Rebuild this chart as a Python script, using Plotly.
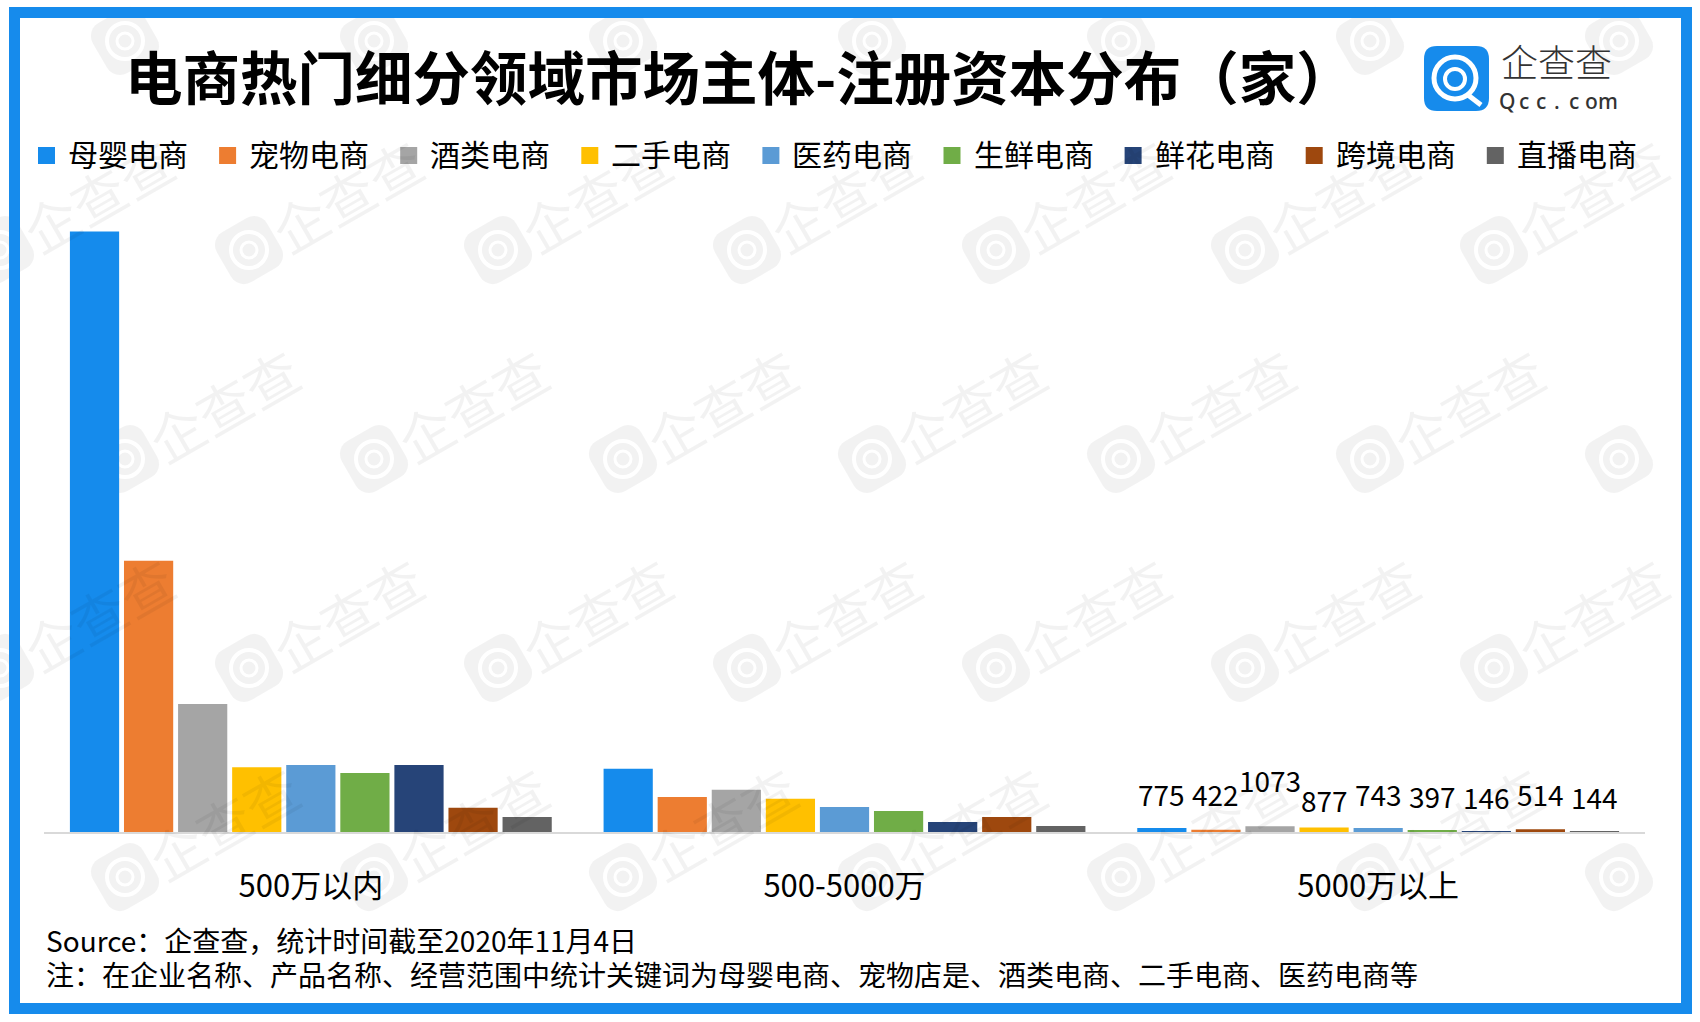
import math
import plotly.graph_objects as go

# ---------------- data ----------------
categories = ["500万以内", "500-5000万", "5000万以上"]
series_names = ["母婴电商", "宠物电商", "酒类电商", "二手电商", "医药电商",
                "生鲜电商", "鲜花电商", "跨境电商", "直播电商"]
muying = [114000, 12000, 775]
chongwu = [51500, 6650, 422]
jiulei = [24300, 8000, 1073]
ershou = [12300, 6300, 877]
yiyao = [12700, 4750, 743]
shengxian = [11200, 4000, 397]
xianhua = [12700, 1900, 146]
kuajing = [4600, 2850, 514]
zhibo = [2850, 1150, 144]
series_values = [muying, chongwu, jiulei, ershou, yiyao, shengxian, xianhua, kuajing, zhibo]
labelled_category = 2  # only the last group carries value labels

title_text = "电商热门细分领域市场主体-注册资本分布（家）"
source_text = "Source：企查查，统计时间截至2020年11月4日"
note_text = "注：在企业名称、产品名称、经营范围中统计关键词为母婴电商、宠物店是、酒类电商、二手电商、医药电商等"

# ---------------- style ----------------
colors = ["#158BEC", "#ED7D31", "#A5A5A5", "#FFC000", "#5B9BD5",
          "#70AD47", "#264478", "#9E480E", "#636363"]
label_lift = [34, 36, 46, 27, 34, 34, 34, 35, 34]  # px above bar top (label collision offsets)
FONT = "Noto Sans CJK SC, Noto Sans, sans-serif"
FRAME_BLUE = "#168BEC"

W, H = 1700, 1022
ML, MR, MT, MB = 44, 55, 200, 190
PW = W - ML - MR
PH = H - MT - MB
BARGAP = 0.088
GROUPGAP = 0.09
YMAX = 120000


def fx(x):
    return (x - ML) / PW


def fy(y):
    return (H - MB - y) / PH


fig = go.Figure()
for name, vals, col in zip(series_names, series_values, colors):
    fig.add_trace(go.Bar(name=name, x=categories, y=vals,
                         marker=dict(color=col, line=dict(width=0)),
                         showlegend=False,
                         hovertemplate="%{x}<br>" + name + ": %{y}<extra></extra>"))

shapes = []
annotations = []

# ---------------- watermarks ----------------
WM_ANGLE = 30


def rot_rounded_square(cx, cy, s, r, ang_deg, n=6):
    a = math.radians(ang_deg)
    h = s / 2 - r
    pts = []
    for ccx, ccy, start in [(h, h, 0), (-h, h, 90), (-h, -h, 180), (h, -h, 270)]:
        for j in range(n + 1):
            t = math.radians(start + 90 * j / n)
            x = ccx + r * math.cos(t)
            y = ccy + r * math.sin(t)
            xr = x * math.cos(a) + y * math.sin(a)
            yr = -x * math.sin(a) + y * math.cos(a)
            pts.append((cx + xr, cy + yr))
    return "M " + " L ".join(f"{fx(x):.5f},{fy(y):.5f}" for x, y in pts) + " Z"


def circle(cx, cy, r, color, width, layer="below"):
    return dict(type="circle", xref="paper", yref="paper",
                x0=fx(cx - r), x1=fx(cx + r), y0=fy(cy + r), y1=fy(cy - r),
                line=dict(color=color, width=width), fillcolor="rgba(0,0,0,0)",
                layer=layer)


for r_i in range(5):
    cy = 41 + 209 * r_i
    x0 = 125 if r_i % 2 == 0 else 0
    for k in range(-1, 8):
        cx = x0 + 249 * k
        if cx < -120 or cx > 1800:
            continue
        shapes.append(dict(type="path", xref="paper", yref="paper",
                           path=rot_rounded_square(cx, cy, 58, 15, WM_ANGLE),
                           fillcolor="rgba(0,0,0,0.05)", line=dict(width=0),
                           layer="below"))
        shapes.append(circle(cx, cy, 18, "white", 4))
        shapes.append(circle(cx, cy, 8, "white", 3))
        tx, ty = cx + 98, cy - 55
        if tx - 90 < 0 or tx + 90 > W or ty - 70 < 0 or ty + 70 > H:
            continue
        if 1380 < tx + 90 and tx - 90 < 1630 and ty - 70 < 125:
            continue  # logo sits on a clear patch
        annotations.append(dict(text="企查查", xref="paper", yref="paper",
                                x=fx(tx), y=fy(ty), xanchor="center", yanchor="middle",
                                showarrow=False, textangle=-WM_ANGLE,
                                font=dict(family=FONT, size=54, color="rgba(0,0,0,0.05)")))

# ---------------- frame ----------------
shapes.append(dict(type="rect", xref="paper", yref="paper",
                   x0=fx(14.5), x1=fx(1686.5), y0=fy(1008.5), y1=fy(12.5),
                   line=dict(color=FRAME_BLUE, width=11), fillcolor="rgba(0,0,0,0)",
                   layer="above"))

# ---------------- title ----------------
annotations.append(dict(text=title_text, xref="paper", yref="paper",
                        x=fx(123), y=fy(75), xanchor="left", yanchor="middle",
                        showarrow=False,
                        font=dict(family=FONT, size=57.5, color="#000000", weight=700)))

# ---------------- logo ----------------
def rounded_rect(x0, y0, x1, y1, r):
    p = [f"M {fx(x0 + r):.5f},{fy(y0):.5f}",
         f"L {fx(x1 - r):.5f},{fy(y0):.5f}",
         f"Q {fx(x1):.5f},{fy(y0):.5f} {fx(x1):.5f},{fy(y0 + r):.5f}",
         f"L {fx(x1):.5f},{fy(y1 - r):.5f}",
         f"Q {fx(x1):.5f},{fy(y1):.5f} {fx(x1 - r):.5f},{fy(y1):.5f}",
         f"L {fx(x0 + r):.5f},{fy(y1):.5f}",
         f"Q {fx(x0):.5f},{fy(y1):.5f} {fx(x0):.5f},{fy(y1 - r):.5f}",
         f"L {fx(x0):.5f},{fy(y0 + r):.5f}",
         f"Q {fx(x0):.5f},{fy(y0):.5f} {fx(x0 + r):.5f},{fy(y0):.5f} Z"]
    return " ".join(p)


shapes.append(dict(type="path", xref="paper", yref="paper",
                   path=rounded_rect(1424, 46, 1489, 111, 13),
                   fillcolor=FRAME_BLUE, line=dict(width=0), layer="above"))
shapes.append(circle(1455, 78, 21, "white", 5, layer="above"))
shapes.append(circle(1455, 79, 10, "white", 4, layer="above"))
shapes.append(dict(type="line", xref="paper", yref="paper",
                   x0=fx(1468), y0=fy(95), x1=fx(1481), y1=fy(105),
                   line=dict(color="white", width=5), layer="above"))
annotations.append(dict(text="企查查", xref="paper", yref="paper",
                        x=fx(1499), y=fy(90), xanchor="left", yanchor="bottom",
                        showarrow=False,
                        font=dict(family=FONT, size=37, color="#333333", weight=300)))
for j, ch in enumerate("Qcc.com"):
    annotations.append(dict(text=ch, xref="paper", yref="paper",
                            x=fx(1507 + 16.8 * j), y=fy(85), xanchor="center",
                            yanchor="top", showarrow=False,
                            font=dict(family="Noto Sans, sans-serif", size=21,
                                      color="#333333", weight=500)))

# ---------------- legend (manual row) ----------------
for i, (name, col) in enumerate(zip(series_names, colors)):
    lx = 38 + 181.1 * i
    shapes.append(dict(type="rect", xref="paper", yref="paper",
                       x0=fx(lx), x1=fx(lx + 17), y0=fy(164), y1=fy(147),
                       fillcolor=col, line=dict(width=0), layer="above"))
    annotations.append(dict(text=name, xref="paper", yref="paper",
                            x=fx(lx + 28), y=fy(153.3), xanchor="left", yanchor="middle",
                            showarrow=False,
                            font=dict(family=FONT, size=30, color="#000000")))

# ---------------- value labels on last group ----------------
slot = (1 - BARGAP) / len(series_values)
for i, vals in enumerate(series_values):
    off = -(1 - BARGAP) / 2 + slot * (i + 0.5)
    v = vals[labelled_category]
    annotations.append(dict(text=f"{v}", xref="x", yref="y",
                            x=labelled_category + off, y=v,
                            xanchor="center", yanchor="middle", yshift=label_lift[i],
                            showarrow=False,
                            font=dict(family=FONT, size=28, color="#000000")))

# ---------------- footnotes ----------------
annotations.append(dict(text=source_text, xref="paper", yref="paper",
                        x=fx(44), y=fy(940), xanchor="left", yanchor="middle",
                        showarrow=False, font=dict(family=FONT, size=28, color="#000000")))
annotations.append(dict(text=note_text, xref="paper", yref="paper",
                        x=fx(44), y=fy(974), xanchor="left", yanchor="middle",
                        showarrow=False, font=dict(family=FONT, size=28, color="#000000")))

fig.update_layout(
    width=W, height=H,
    margin=dict(l=ML, r=MR, t=MT, b=MB, pad=0, autoexpand=False),
    paper_bgcolor="white", plot_bgcolor="white",
    barmode="group", bargap=BARGAP, bargroupgap=GROUPGAP,
    showlegend=False,
    font=dict(family=FONT, color="#000000"),
    xaxis=dict(type="category", showline=True, linecolor="#D9D9D9", linewidth=2,
               ticks="", showgrid=False, zeroline=False,
               tickfont=dict(family=FONT, size=31, color="#000000"),
               ticklabelstandoff=26),
    yaxis=dict(range=[0, YMAX], visible=False, showgrid=False, zeroline=False),
    shapes=shapes,
    annotations=annotations,
)

fig.write_html("out.html")
